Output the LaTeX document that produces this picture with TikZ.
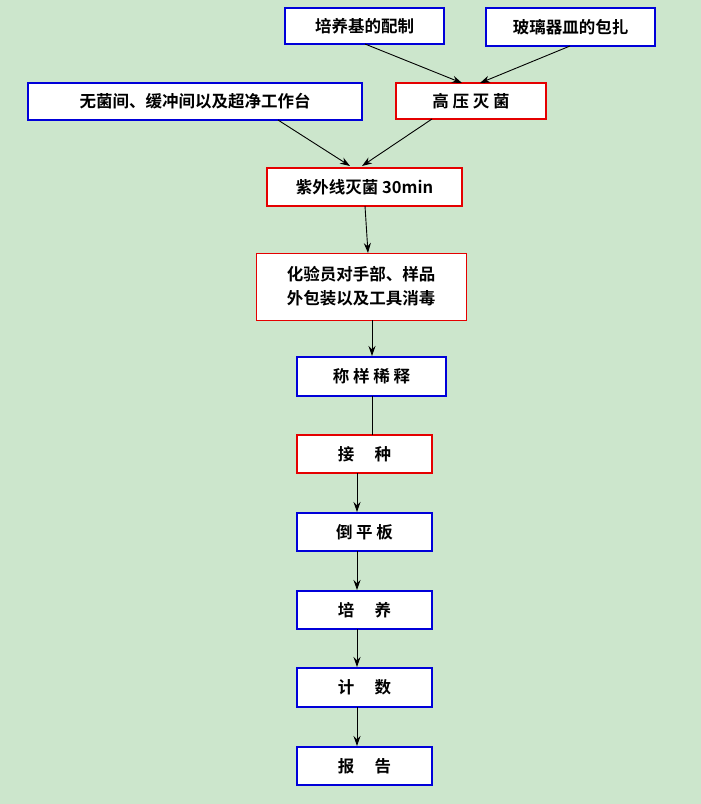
\documentclass[tikz,border=0pt]{standalone}
\usepackage{fontspec}
\newfontfamily\cjk{Noto Sans CJK SC}[BoldFont={* Bold}]
\usetikzlibrary{arrows.meta}
\begin{document}
\begin{tikzpicture}[x=1pt,y=-1pt,
  bx/.style={draw=blue!85!black,line width=1.8pt,fill=white,font=\cjk\bfseries\fontsize{16.5}{24}\selectfont,inner sep=0pt,align=center},
  rx/.style={bx,draw=red!90!black},
  arr/.style={-{Stealth[length=10pt,width=7pt]},line width=0.9pt}]
\fill[fill={rgb,255:red,204;green,230;blue,204}] (0,0) rectangle (701,804);
\useasboundingbox (0,0) rectangle (701,804);
\node[bx,minimum width=159,minimum height=36] (a) at (364.5,26) {培养基的配制};
\node[bx,minimum width=169,minimum height=38] (b) at (570.5,27) {玻璃器皿的包扎};
\node[bx,minimum width=334,minimum height=37] (c) at (195,101.5) {无菌间、缓冲间以及超净工作台};
\node[rx,minimum width=150,minimum height=36] (d) at (471,101) {高\ 压\ 灭\ 菌};
\node[rx,minimum width=195,minimum height=38] (e) at (364.5,187) {紫外线灭菌 30min};
\node[rx,line width=0.9pt,minimum width=210,minimum height=67] (f) at (361,286.5) {化验员对手部、样品\\外包装以及工具消毒};
\node[bx,minimum width=149,minimum height=39] (g) at (371.5,376.5) {称\ 样\ 稀\ 释};
\node[rx,minimum width=135,minimum height=38] (h) at (364.5,454) {接\quad\ 种};
\node[bx,minimum width=135,minimum height=38] (i) at (364.5,532) {倒\ 平\ 板};
\node[bx,minimum width=135,minimum height=38] (j) at (364.5,610) {培\quad\ 养};
\node[bx,minimum width=135,minimum height=39] (k) at (364.5,687.5) {计\quad\ 数};
\node[bx,minimum width=135,minimum height=38] (l) at (364.5,766) {报\quad\ 告};
\draw[arr] (365,44) -- (462,83);
\draw[arr] (570,46) -- (480,83);
\draw[arr] (278,120) -- (350,166);
\draw[arr] (432,119) -- (362,166);
\draw[arr] (365,206) -- (368,253);
\draw[arr] (372,320) -- (372,356);
\draw[line width=0.9pt] (372,396) -- (372,435);
\draw[arr] (357,473) -- (357,512);
\draw[arr] (357,551) -- (357,590);
\draw[arr] (357,629) -- (357,667);
\draw[arr] (357,707) -- (357,746);
\end{tikzpicture}
\end{document}
